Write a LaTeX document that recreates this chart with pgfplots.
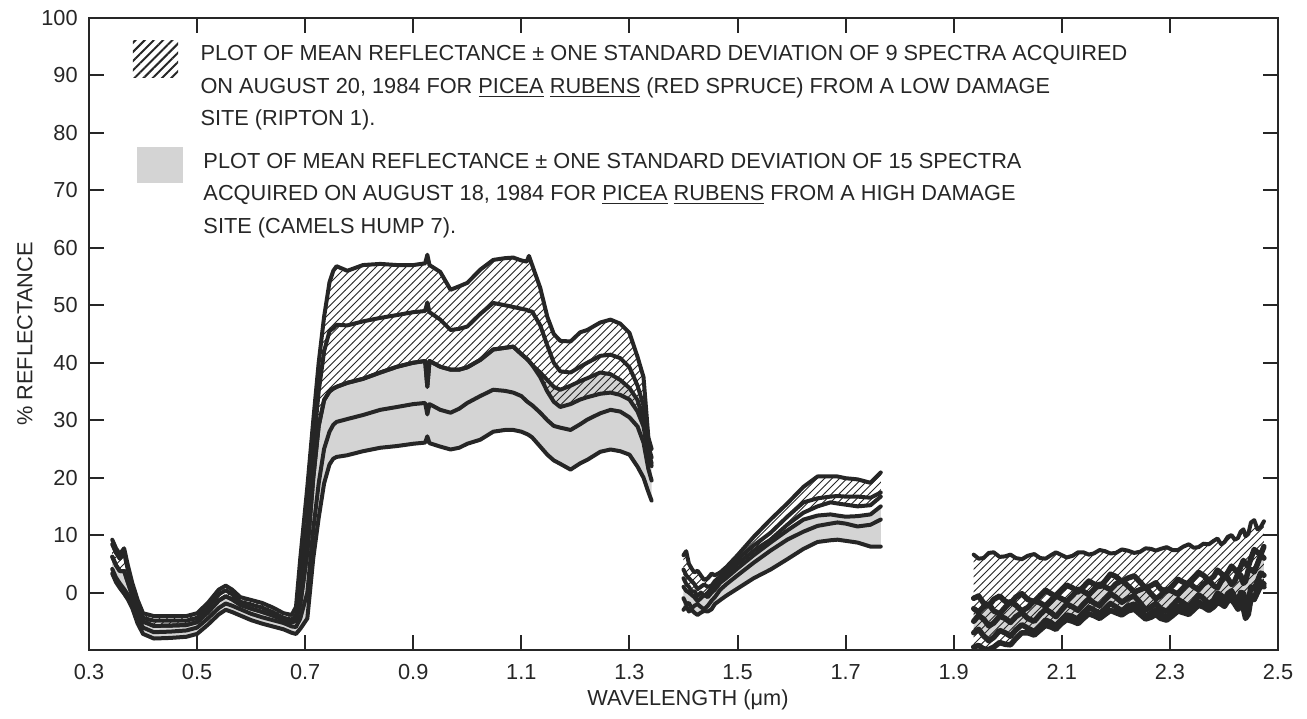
\documentclass[border=0pt]{standalone}
\usepackage{fontspec}
\setmainfont{Liberation Sans}
\usepackage{pgfplots}
\pgfplotsset{compat=1.18}
\usepackage{pgfplotstable}
\usepgfplotslibrary{fillbetween}
\usetikzlibrary{patterns,patterns.meta,calc}

\pgfplotstableread{
x hu hm hl gu gm gl
0.343 9.2 8.4 6.25 6.25 4.1 3.3
0.350 7.7 6.9 4.75 4.75 2.6 1.8
0.357 6.7 5.9 3.75 3.75 1.6 0.8
0.365 7.7 6.9 3.75 3.75 0.6 -0.2
0.372 4.7 3.9 1.75 1.75 -0.4 -1.2
0.380 1.7 0.9 -0.5 -0.5 -1.9 -2.7
0.390 -1.3 -2.1 -3.0 -3.0 -4.3 -5.4
0.400 -3.6 -4.4 -5.05 -5.05 -6.1 -7.2
0.420 -4.1 -4.9 -5.8 -5.8 -6.9 -8.0
0.450 -4.1 -4.9 -5.75 -5.75 -6.8 -7.9
0.480 -4.1 -4.9 -5.65 -5.65 -6.6 -7.7
0.500 -3.6 -4.4 -5.15 -5.15 -6.1 -7.2
0.520 -1.8 -2.6 -3.45 -3.45 -4.5 -5.6
0.540 0.5 -0.3 -1.4 -1.4 -2.7 -3.8
0.553 1.2 0.4 -0.65 -0.65 -1.9 -3.0
0.565 0.5 -0.3 -1.2 -1.2 -2.3 -3.4
0.580 -0.8 -1.6 -2.15 -2.15 -2.9 -4.0
0.600 -1.3 -2.1 -2.8 -2.8 -3.7 -4.8
0.620 -1.8 -2.6 -3.35 -3.35 -4.3 -5.4
0.640 -2.6 -3.4 -4.0 -4.0 -4.8 -5.9
0.660 -3.6 -4.4 -4.75 -4.75 -5.3 -6.4
0.675 -3.9 -4.7 -5.2 -5.2 -5.9 -7.0
0.683 -2.5 -4.0 -4.9 -4.9 -6.0 -7.2
0.691 6.0 1.0 -2.0 -2.0 -4.5 -6.3
0.704 18.4 12.0 7.0 7.0 0.0 -4.5
0.715 30.0 25.0 20.0 20.0 11.0 6.0
0.725 40.0 35.0 29.0 29.0 19.0 13.0
0.735 48.0 42.0 33.5 33.5 25.0 19.0
0.745 54.0 45.5 35.0 35.0 28.0 22.3
0.752 56.0 46.0 35.5 35.5 29.2 23.3
0.758 56.8 46.6 35.8 35.8 29.7 23.6
0.778 56.0 46.5 36.5 36.5 30.2 23.9
0.807 57.0 47.2 37.2 37.2 30.9 24.6
0.839 57.2 47.8 38.3 38.3 31.8 25.2
0.870 57.0 48.3 39.3 39.3 32.3 25.5
0.900 57.0 48.8 40.0 40.0 32.8 25.9
0.922 57.3 49.0 40.3 40.3 33.0 26.1
0.926 58.8 50.5 35.8 35.8 31.0 27.2
0.930 57.0 48.8 40.3 40.3 32.8 26.0
0.950 55.8 47.5 39.3 39.3 31.8 25.4
0.969 52.7 45.7 38.8 38.8 31.3 24.9
0.985 53.3 45.9 38.8 38.8 32.0 25.2
1.000 53.9 46.3 39.2 39.2 33.0 25.9
1.024 56.2 48.5 40.5 40.5 34.2 26.6
1.048 57.9 50.4 42.3 42.3 35.3 28.0
1.070 58.2 50.0 42.6 42.6 35.1 28.3
1.085 58.3 49.7 42.8 42.8 34.8 28.3
1.100 57.8 49.4 41.5 41.5 34.2 28.0
1.110 57.6 49.2 40.7 40.7 33.3 27.6
1.114 58.6 49.0 40.3 40.3 33.0 27.4
1.120 57.0 48.9 39.6 39.6 32.6 27.0
1.135 53.0 46.5 37.5 38.3 31.3 25.4
1.148 48.0 43.0 35.0 37.0 30.0 24.0
1.160 45.0 40.0 33.2 35.8 29.0 23.0
1.172 43.8 38.5 32.3 35.3 28.7 22.4
1.191 43.7 38.3 32.8 36.0 28.3 21.4
1.209 45.3 39.3 33.6 36.8 29.3 22.5
1.222 45.7 40.0 34.0 37.3 30.1 23.1
1.246 47.0 41.2 34.6 38.3 31.2 24.5
1.265 47.5 41.4 34.8 38.0 31.8 24.9
1.283 46.8 40.8 34.4 37.0 31.5 24.6
1.300 45.2 39.2 33.6 35.6 30.5 24.0
1.315 41.0 36.0 31.5 33.5 28.9 21.9
1.326 37.5 32.5 28.9 30.0 26.1 20.0
1.335 27.0 25.5 24.0 24.5 21.5 17.5
1.341 25.0 23.5 22.0 22.5 19.5 16.0
}\tabA

\pgfplotstableread{
x hu hm hl gu gm gl
1.400 6.5 4.0 2.5 1.0 -1.0 -3.0
1.405 7.2 3.0 1.5 0.3 -2.0 -2.4
1.410 5.0 2.5 1.0 0.0 -1.8 -3.3
1.415 4.2 2.0 0.2 -0.4 -2.8 -3.0
1.420 3.5 1.5 0.2 -0.8 -2.3 -3.5
1.426 3.8 0.6 -0.6 -1.5 -2.0 -3.9
1.432 3.0 1.0 0.0 -1.0 -2.5 -3.5
1.438 2.2 1.4 -0.6 -0.4 -2.9 -3.2
1.445 2.5 1.0 0.0 -0.8 -2.3 -3.3
1.452 3.3 1.2 0.8 0.0 -1.4 -2.9
1.458 3.0 2.0 1.2 0.5 -0.8 -2.0
1.468 3.5 2.8 2.3 1.7 0.5 -1.3
1.480 4.5 3.8 3.2 2.6 1.5 -0.5
1.500 6.5 5.8 5.0 4.2 3.0 0.7
1.530 9.7 8.2 7.3 6.5 5.2 2.5
1.561 12.7 10.4 9.2 8.7 7.3 4.0
1.592 15.5 13.2 11.8 10.8 9.2 5.8
1.622 18.4 15.7 13.9 12.7 10.6 7.6
1.648 20.2 16.4 15.0 13.4 11.6 8.8
1.672 20.2 16.7 15.7 13.6 12.0 9.1
1.685 20.2 16.8 15.5 13.4 12.2 9.2
1.700 19.9 16.7 15.3 13.2 12.0 9.0
1.722 19.7 16.7 15.0 13.3 11.5 8.7
1.746 19.1 16.5 15.2 13.6 11.8 8.0
1.765 20.9 17.4 16.7 15.0 12.7 8.0
}\tabB

\pgfplotstableread{
x hu hm hl gu gm gl
1.937 6.6 -1.0 -9.5 -2.8 -5.0 -7.0
1.946 5.9 -0.6 -9.2 -3.4 -4.0 -6.4
1.955 6.0 -1.8 -9.8 -2.5 -4.6 -7.5
1.965 6.9 -2.3 -9.9 -2.0 -5.8 -8.4
1.974 7.0 -1.2 -9.5 -3.2 -5.3 -7.8
1.985 6.2 -0.6 -8.7 -3.7 -4.1 -6.6
1.995 6.3 -1.5 -9.0 -2.6 -4.5 -7.0
2.005 6.6 -1.9 -9.1 -1.6 -5.2 -7.6
2.015 6.0 -0.8 -8.0 -2.2 -4.2 -6.5
2.026 5.8 -0.2 -7.0 -3.2 -3.5 -5.6
2.037 6.4 -1.2 -7.0 -2.6 -4.5 -6.2
2.049 6.7 -1.6 -7.4 -1.4 -5.0 -6.8
2.060 6.0 -0.5 -6.5 -1.8 -3.8 -5.8
2.070 5.9 0.4 -5.7 -2.4 -2.9 -4.8
2.080 6.5 -0.2 -6.0 -1.5 -3.5 -5.2
2.089 7.0 -0.7 -6.4 -0.5 -4.2 -5.9
2.098 6.6 0.3 -5.5 -1.0 -3.2 -5.0
2.109 6.1 1.3 -4.7 -1.5 -2.0 -3.9
2.120 6.4 0.8 -5.0 -0.5 -2.5 -4.2
2.130 7.0 0.1 -5.4 0.6 -3.1 -4.7
2.140 7.0 1.0 -4.5 0.2 -2.0 -3.6
2.150 6.6 2.0 -3.7 -0.4 -1.1 -2.6
2.159 6.8 1.5 -4.0 0.5 -1.8 -3.0
2.170 7.4 1.0 -4.5 1.5 -2.3 -3.7
2.180 7.2 2.0 -3.8 1.0 -1.2 -2.8
2.190 6.8 3.2 -3.1 0.5 -0.2 -1.9
2.200 6.9 2.8 -3.5 1.5 -0.8 -2.5
2.211 7.5 1.9 -3.9 2.1 -1.7 -3.2
2.222 7.3 2.5 -3.2 1.2 -1.0 -2.4
2.234 6.9 2.9 -2.9 0.1 -0.6 -2.0
2.245 7.1 1.8 -3.8 0.5 -1.8 -3.0
2.255 7.7 0.8 -4.6 0.9 -3.0 -4.1
2.265 7.6 1.2 -4.3 -0.2 -2.5 -3.6
2.274 7.3 1.7 -3.8 -1.1 -1.9 -3.0
2.283 7.6 0.6 -4.5 -0.5 -2.8 -3.8
2.294 7.9 0.2 -4.8 0.6 -3.3 -4.3
2.305 7.4 1.2 -4.0 0.2 -2.2 -3.2
2.315 7.4 2.3 -3.2 -0.3 -1.2 -2.3
2.325 8.0 1.8 -3.5 0.8 -1.8 -2.8
2.335 8.4 1.4 -3.8 1.7 -2.5 -3.4
2.344 7.8 2.5 -3.0 1.0 -1.5 -2.5
2.353 7.9 3.5 -2.2 0.5 -0.4 -1.6
2.362 8.5 3.0 -2.5 1.5 -1.0 -2.2
2.372 8.4 2.1 -3.1 2.1 -2.0 -3.0
2.381 9.0 2.8 -2.5 1.2 -1.3 -2.2
2.388 9.4 3.9 -1.7 0.8 -0.1 -1.1
2.395 8.4 3.3 -2.0 2.0 -0.5 -1.5
2.401 8.8 2.7 -2.4 3.0 -1.2 -2.0
2.407 9.7 3.5 -1.5 2.5 -0.2 -1.0
2.414 10.0 4.6 -1.2 1.4 0.3 -0.6
2.420 9.2 4.0 -2.0 2.0 -0.8 -1.8
2.426 9.5 3.4 -2.9 3.3 -1.3 -2.3
2.431 10.6 4.5 -2.5 3.0 0.0 -1.2
2.436 11.0 5.6 -2.8 1.6 -0.1 -1.8
2.440 9.8 5.0 -4.5 2.0 -2.0 -4.0
2.445 10.2 4.5 -3.8 3.9 -1.6 -3.2
2.450 12.2 6.0 -1.0 4.0 1.0 -0.5
2.456 12.6 7.5 -1.2 3.6 0.6 -0.9
2.462 11.0 7.0 0.0 5.0 2.0 0.5
2.468 11.4 6.6 1.2 6.5 3.4 1.9
2.474 12.4 8.0 1.0 6.0 3.0 1.5
}\tabC

\pgfplotsset{spec/.style={line width=1.6pt, black!85, line join=round, line cap=round}}

\newcommand\seg[3]{%
\addplot[draw=none,name path=hu#1] table[x=x,y=hu]{#2};
\addplot[draw=none,name path=hl#1] table[x=x,y=hl]{#2};
\addplot[draw=none,name path=gu#1] table[x=x,y=gu]{#2};
\addplot[draw=none,name path=gl#1] table[x=x,y=gl]{#2};
\addplot[fill=black!17,draw=none] fill between[of=gu#1 and gl#1];
\addplot[pattern=north east lines,pattern color=black!85,draw=none] fill between[of=hu#1 and hl#1];
\addplot[spec,#3] table[x=x,y=gl]{#2};
\addplot[spec,#3] table[x=x,y=gm]{#2};
\addplot[spec,#3] table[x=x,y=gu]{#2};
\addplot[spec,#3] table[x=x,y=hl]{#2};
\addplot[spec,#3] table[x=x,y=hm]{#2};
\addplot[spec] table[x=x,y=hu]{#2};
}

\begin{document}
\begin{tikzpicture}[font=\fontsize{8.7}{10.4}\selectfont]
\begin{axis}[name=ax, at={(0,0)}, anchor=south west,
  scale only axis, width=475.6pt, height=252.8pt,
  xmin=0.3, xmax=2.5, ymin=-10, ymax=100,
  xtick={0.3,0.5,0.7,0.9,1.1,1.3,1.5,1.7,1.9,2.1,2.3,2.5},
  xticklabels={0.3,0.5,0.7,0.9,1.1,1.3,1.5,1.7,1.9,2.1,2.3,2.5},
  ytick={0,10,20,30,40,50,60,70,80,90,100},
  yticklabels={0,10,20,30,40,50,60,70,80,90,100},
  /pgf/number format/assume math mode=true,
  tick align=inside, tick pos=both, major tick length=6pt,
  every tick/.style={black!85, line width=0.8pt},
  axis line style={black!85, line width=0.9pt},
  xticklabel style={yshift=-2.3pt, text=black!85},
  yticklabel style={xshift=-1pt, text=black!85},
]
\seg{a}{\tabA}{}
\seg{b}{\tabB}{}
\seg{c}{\tabC}{line width=2.2pt}
\end{axis}
\begin{scope}[shift={(ax.south west)}, text=black!85]
  \fill[pattern={Lines[angle=45,distance=2.6pt,line width=0.8pt]}, pattern color=black!85] (17.6pt,229.2pt) rectangle (35.6pt,244pt);
  \fill[black!17] (19.2pt,186.8pt) rectangle (37.6pt,201.2pt);
  \node[anchor=base west, inner sep=0] at (44.4pt,236pt) {PLOT OF MEAN REFLECTANCE ± ONE STANDARD DEVIATION OF 9 SPECTRA ACQUIRED};
  \node[anchor=base west, inner sep=0] at (44.4pt,222.8pt) {ON AUGUST 20, 1984 FOR \underline{PICEA} \underline{RUBENS} (RED SPRUCE) FROM A LOW DAMAGE};
  \node[anchor=base west, inner sep=0] at (44.4pt,210pt) {SITE (RIPTON 1).};
  \node[anchor=base west, inner sep=0] at (45.6pt,192.8pt) {PLOT OF MEAN REFLECTANCE ± ONE STANDARD DEVIATION OF 15 SPECTRA};
  \node[anchor=base west, inner sep=0] at (45.6pt,180pt) {ACQUIRED ON AUGUST 18, 1984 FOR \underline{PICEA} \underline{RUBENS} FROM A HIGH DAMAGE};
  \node[anchor=base west, inner sep=0] at (45.6pt,166.8pt) {SITE (CAMELS HUMP 7).};
  \node[rotate=90] at (-25.6pt,126.4pt) {\% REFLECTANCE};
  \node at (239.6pt,-20pt) {WAVELENGTH (μm)};
\end{scope}
\pgfresetboundingbox
\path[use as bounding box] ($(ax.south west)+(-35.6pt,-27.2pt)$) rectangle ($(ax.south west)+(487.2pt,260pt)$);
\end{tikzpicture}
\end{document}
